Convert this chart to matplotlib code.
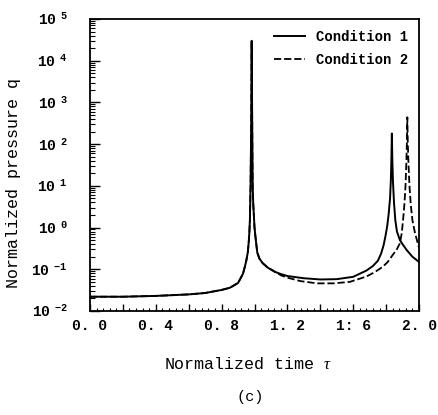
import math
import matplotlib
matplotlib.use("Agg")
import matplotlib.pyplot as plt
from matplotlib.ticker import FuncFormatter, LogLocator, NullFormatter, MultipleLocator

plt.rcParams['font.family'] = ['Liberation Mono', 'DejaVu Sans Mono']
plt.rcParams['mathtext.fontset'] = 'custom'
plt.rcParams['mathtext.rm'] = 'Liberation Mono'
plt.rcParams['mathtext.bf'] = 'Liberation Mono:bold'
plt.rcParams['mathtext.it'] = 'Liberation Serif:italic'

# condition 1 (solid)
tau1 = [0.0, 0.2, 0.4, 0.6, 0.7, 0.8, 0.85, 0.9, 0.93, 0.94, 0.95, 0.959, 0.965,
        0.969, 0.972, 0.976, 0.98, 0.983, 0.986, 0.989, 0.992, 1.0, 1.008,
        1.017, 1.03, 1.05, 1.08, 1.12, 1.16, 1.2, 1.3, 1.4, 1.5, 1.6, 1.68,
        1.72, 1.75, 1.77, 1.785, 1.797, 1.807, 1.816, 1.824, 1.829, 1.832,
        1.835, 1.838, 1.842, 1.848, 1.856, 1.866, 1.884, 1.9, 1.925, 1.96, 2.0]
q1 = [0.022, 0.022, 0.023, 0.025, 0.027, 0.032, 0.036, 0.047, 0.078, 0.11, 0.16, 0.25, 0.45,
      0.8, 1.5, 9.5, 300, 30000, 300, 9.5, 4.0, 1.0, 0.5,
      0.25, 0.18, 0.14, 0.11, 0.088, 0.077, 0.069, 0.061, 0.057, 0.058, 0.066, 0.093,
      0.12, 0.16, 0.24, 0.38, 0.65, 1.1, 2.2, 5.0, 14, 40,
      180, 40, 12, 4.0, 1.5, 0.8, 0.5, 0.4, 0.29, 0.2, 0.15]

# condition 2 (dashed)
tau2 = [0.0, 0.2, 0.4, 0.6, 0.7, 0.8, 0.85, 0.9, 0.93, 0.94, 0.95, 0.959, 0.965,
        0.969, 0.972, 0.976, 0.98, 0.983, 0.986, 0.989, 0.992, 1.0, 1.008,
        1.017, 1.03, 1.05, 1.08, 1.11, 1.16, 1.2, 1.28, 1.38, 1.48, 1.58, 1.68,
        1.73, 1.78, 1.81, 1.84, 1.865, 1.884, 1.895, 1.903, 1.911, 1.918,
        1.923, 1.926, 1.929, 1.932, 1.936, 1.942, 1.95, 1.96, 1.976, 2.0]
q2 = [0.022, 0.022, 0.023, 0.025, 0.027, 0.032, 0.036, 0.047, 0.078, 0.11, 0.16, 0.25, 0.45,
      0.8, 1.5, 9.5, 300, 30000, 300, 9.5, 4.0, 1.0, 0.5,
      0.25, 0.18, 0.14, 0.11, 0.095, 0.072, 0.063, 0.052, 0.046, 0.046, 0.05, 0.067,
      0.085, 0.115, 0.15, 0.22, 0.3, 0.42, 0.73, 1.5, 3.5, 10,
      35, 100, 440, 100, 35, 10, 3.5, 1.5, 0.73, 0.33]

xticks = [0.0, 0.4, 0.8, 1.2, 1.6, 2.0]
xticklabels = ['0. 0', '0. 4', '0. 8', '1. 2', '1: 6', '2. 0']

fig = plt.figure(figsize=(4.38, 4.15), dpi=100)
ax = fig.add_axes([90/438, 1-311/415, 329/438, 292/415])

ax.plot(tau1, q1, color='black', lw=1.4, label='Condition 1')
ax.plot(tau2, q2, color='black', lw=1.3, linestyle=(0, (4, 1.6)), label='Condition 2')

ax.set_yscale('log')
ax.set_xlim(0, 2.0)
ax.set_ylim(1e-2, 1e5)

# x ticks: marks every 0.2, labels every 0.4
ax.xaxis.set_major_locator(MultipleLocator(0.2))
ax.xaxis.set_minor_locator(MultipleLocator(0.04))
lab = dict(zip([round(v, 1) for v in xticks], xticklabels))
ax.xaxis.set_major_formatter(FuncFormatter(lambda v, p: lab.get(round(v, 1), '')))

# y ticks
def ylab(v, p):
    e = int(round(math.log10(v)))
    return r'$\mathbf{10}^{\ \ \mathbf{%d}}$' % e

ax.yaxis.set_major_locator(LogLocator(base=10, numticks=20))
ax.yaxis.set_minor_locator(LogLocator(base=10, subs=range(2, 10), numticks=20))
ax.yaxis.set_minor_formatter(NullFormatter())
ax.yaxis.set_major_formatter(FuncFormatter(ylab))

ax.tick_params(axis='both', which='both', direction='in', top=False, right=False)
ax.tick_params(axis='x', which='major', length=5, width=1.0, labelsize=10.5, pad=6)
ax.tick_params(axis='x', which='minor', length=2.5, width=0.8)
ax.tick_params(axis='y', which='major', length=7, width=1.0, labelsize=10.5, pad=16)
ax.tick_params(axis='y', which='minor', length=3.5, width=0.8)
for lbl in ax.get_xticklabels():
    lbl.set_fontweight('bold')

for s in ax.spines.values():
    s.set_linewidth(1.3)

ax.set_xlabel(r'Normalized time $\tau$', fontsize=12)
ax.xaxis.set_label_coords(0.48, -0.155)
ax.set_ylabel('Normalized pressure q', fontsize=12)
ax.yaxis.set_label_coords(-0.21, 0.44)

ax.legend(loc='upper right', frameon=False, prop={'weight': 'bold', 'size': 10},
          handlelength=2.2, labelspacing=0.65, bbox_to_anchor=(1.0, 1.0),
          borderaxespad=0.4)

fig.text(250/438, 1-397/415, '(c)', ha='center', va='center', fontsize=11)

fig.savefig('out.png', dpi=100)
